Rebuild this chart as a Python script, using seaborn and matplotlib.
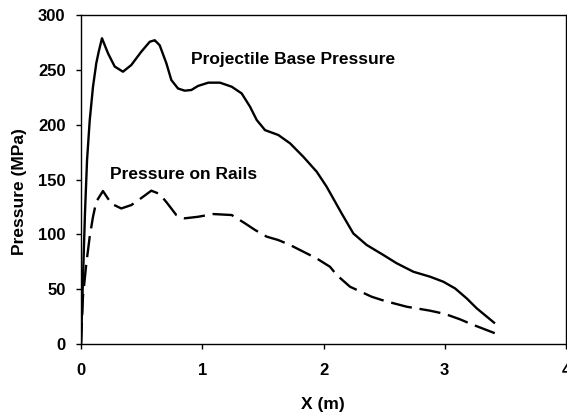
import matplotlib
matplotlib.use("Agg")
import matplotlib.pyplot as plt
import seaborn as sns
import pandas as pd

base_x = [0.0, 0.015, 0.033, 0.05, 0.072, 0.099, 0.126, 0.146, 0.173, 0.223, 0.278, 0.346,
          0.415, 0.497, 0.567, 0.608, 0.649, 0.704, 0.745, 0.8, 0.855, 0.91, 0.965, 1.05,
          1.146, 1.243, 1.325, 1.394, 1.449, 1.518, 1.627, 1.724, 1.833, 1.944, 2.026, 2.15,
          2.246, 2.356, 2.493, 2.604, 2.741, 2.878, 2.988, 3.085, 3.181, 3.264, 3.414]
base_y = [0, 55, 120, 168, 204, 234.6, 256, 266.5, 278.8, 265, 253, 248.3,
          254.4, 266.5, 275.6, 277, 272.4, 256, 240.7, 233, 231, 231.6, 235.3, 238.3,
          238.3, 234.6, 228.5, 216.4, 204.3, 195, 190.6, 183, 170.8, 157.1, 143.4, 119,
          100.8, 90.3, 81.2, 73.6, 65.9, 61.4, 56.8, 50.7, 41.6, 32.5, 18.8]

rails_x = [0.0, 0.016, 0.044, 0.072, 0.099, 0.126, 0.181, 0.25, 0.332, 0.415, 0.484, 0.58,
           0.649, 0.712, 0.786, 0.855, 0.965, 1.091, 1.243, 1.353, 1.435, 1.531, 1.627,
           1.724, 1.833, 1.944, 2.054, 2.109, 2.219, 2.397, 2.507, 2.686, 2.878, 3.002,
           3.126, 3.222, 3.414]
rails_y = [0, 43, 73.5, 98, 116, 129.8, 139.5, 128, 123.6, 126.7, 132, 139.8,
           136.8, 128.3, 117.6, 114.6, 116, 118.5, 117.6, 110, 104, 97.9, 94.8,
           90.3, 84.2, 78, 70.4, 62.9, 52.2, 43.1, 39.2, 34, 30.4, 27.4,
           22.5, 18, 9.8]

series_names = ["Projectile Base Pressure", "Pressure on Rails"]
x_ticks = [0, 1, 2, 3, 4]
y_ticks = [0, 50, 100, 150, 200, 250, 300]

df = pd.DataFrame({
    "X": base_x + rails_x,
    "P": base_y + rails_y,
    "series": [series_names[0]] * len(base_x) + [series_names[1]] * len(rails_x),
})

sns.set_style("ticks")
plt.rcParams["font.family"] = ["Liberation Sans", "DejaVu Sans"]
plt.rcParams["font.weight"] = "bold"
plt.rcParams["text.color"] = "black"
plt.rcParams["axes.labelcolor"] = "black"
plt.rcParams["xtick.color"] = "black"
plt.rcParams["ytick.color"] = "black"

fig = plt.figure(figsize=(5.67, 4.16), dpi=100)
ax = fig.add_axes([81 / 567, 72 / 416, 485 / 567, 329 / 416])

sns.lineplot(data=df, x="X", y="P", hue="series", style="series",
             palette=["black", "black"], dashes=[(1, 0), (9, 3.3)],
             sort=False, linewidth=1.7, legend=False, ax=ax)

ax.set_xlim(0, 4)
ax.set_ylim(0, 300)
ax.set_xticks(x_ticks)
ax.set_yticks(y_ticks)
ax.tick_params(direction="out", length=3.6, width=1, labelsize=12, colors="black")
ax.tick_params(axis="x", pad=10)
ax.tick_params(axis="y", pad=7.5)
for lbl in ax.get_xticklabels() + ax.get_yticklabels():
    lbl.set_fontweight("bold")
for s in ax.spines.values():
    s.set_visible(True)
    s.set_color("black")
    s.set_linewidth(1)

ax.set_xlabel("X (m)", fontsize=12.5, fontweight="bold", va="center", color="black")
ax.set_ylabel("Pressure (MPa)", fontsize=12.5, fontweight="bold", va="center", color="black")
ax.xaxis.set_label_coords(0.499, -0.185)
ax.yaxis.set_label_coords(-0.126, 0.4635)

ax.text(1.75, 259, "Projectile Base Pressure", fontsize=12.5, fontweight="bold",
        ha="center", va="center", color="black")
ax.text(0.845, 155, "Pressure on Rails", fontsize=12.5, fontweight="bold",
        ha="center", va="center", color="black")

fig.savefig("out.png", dpi=100)
